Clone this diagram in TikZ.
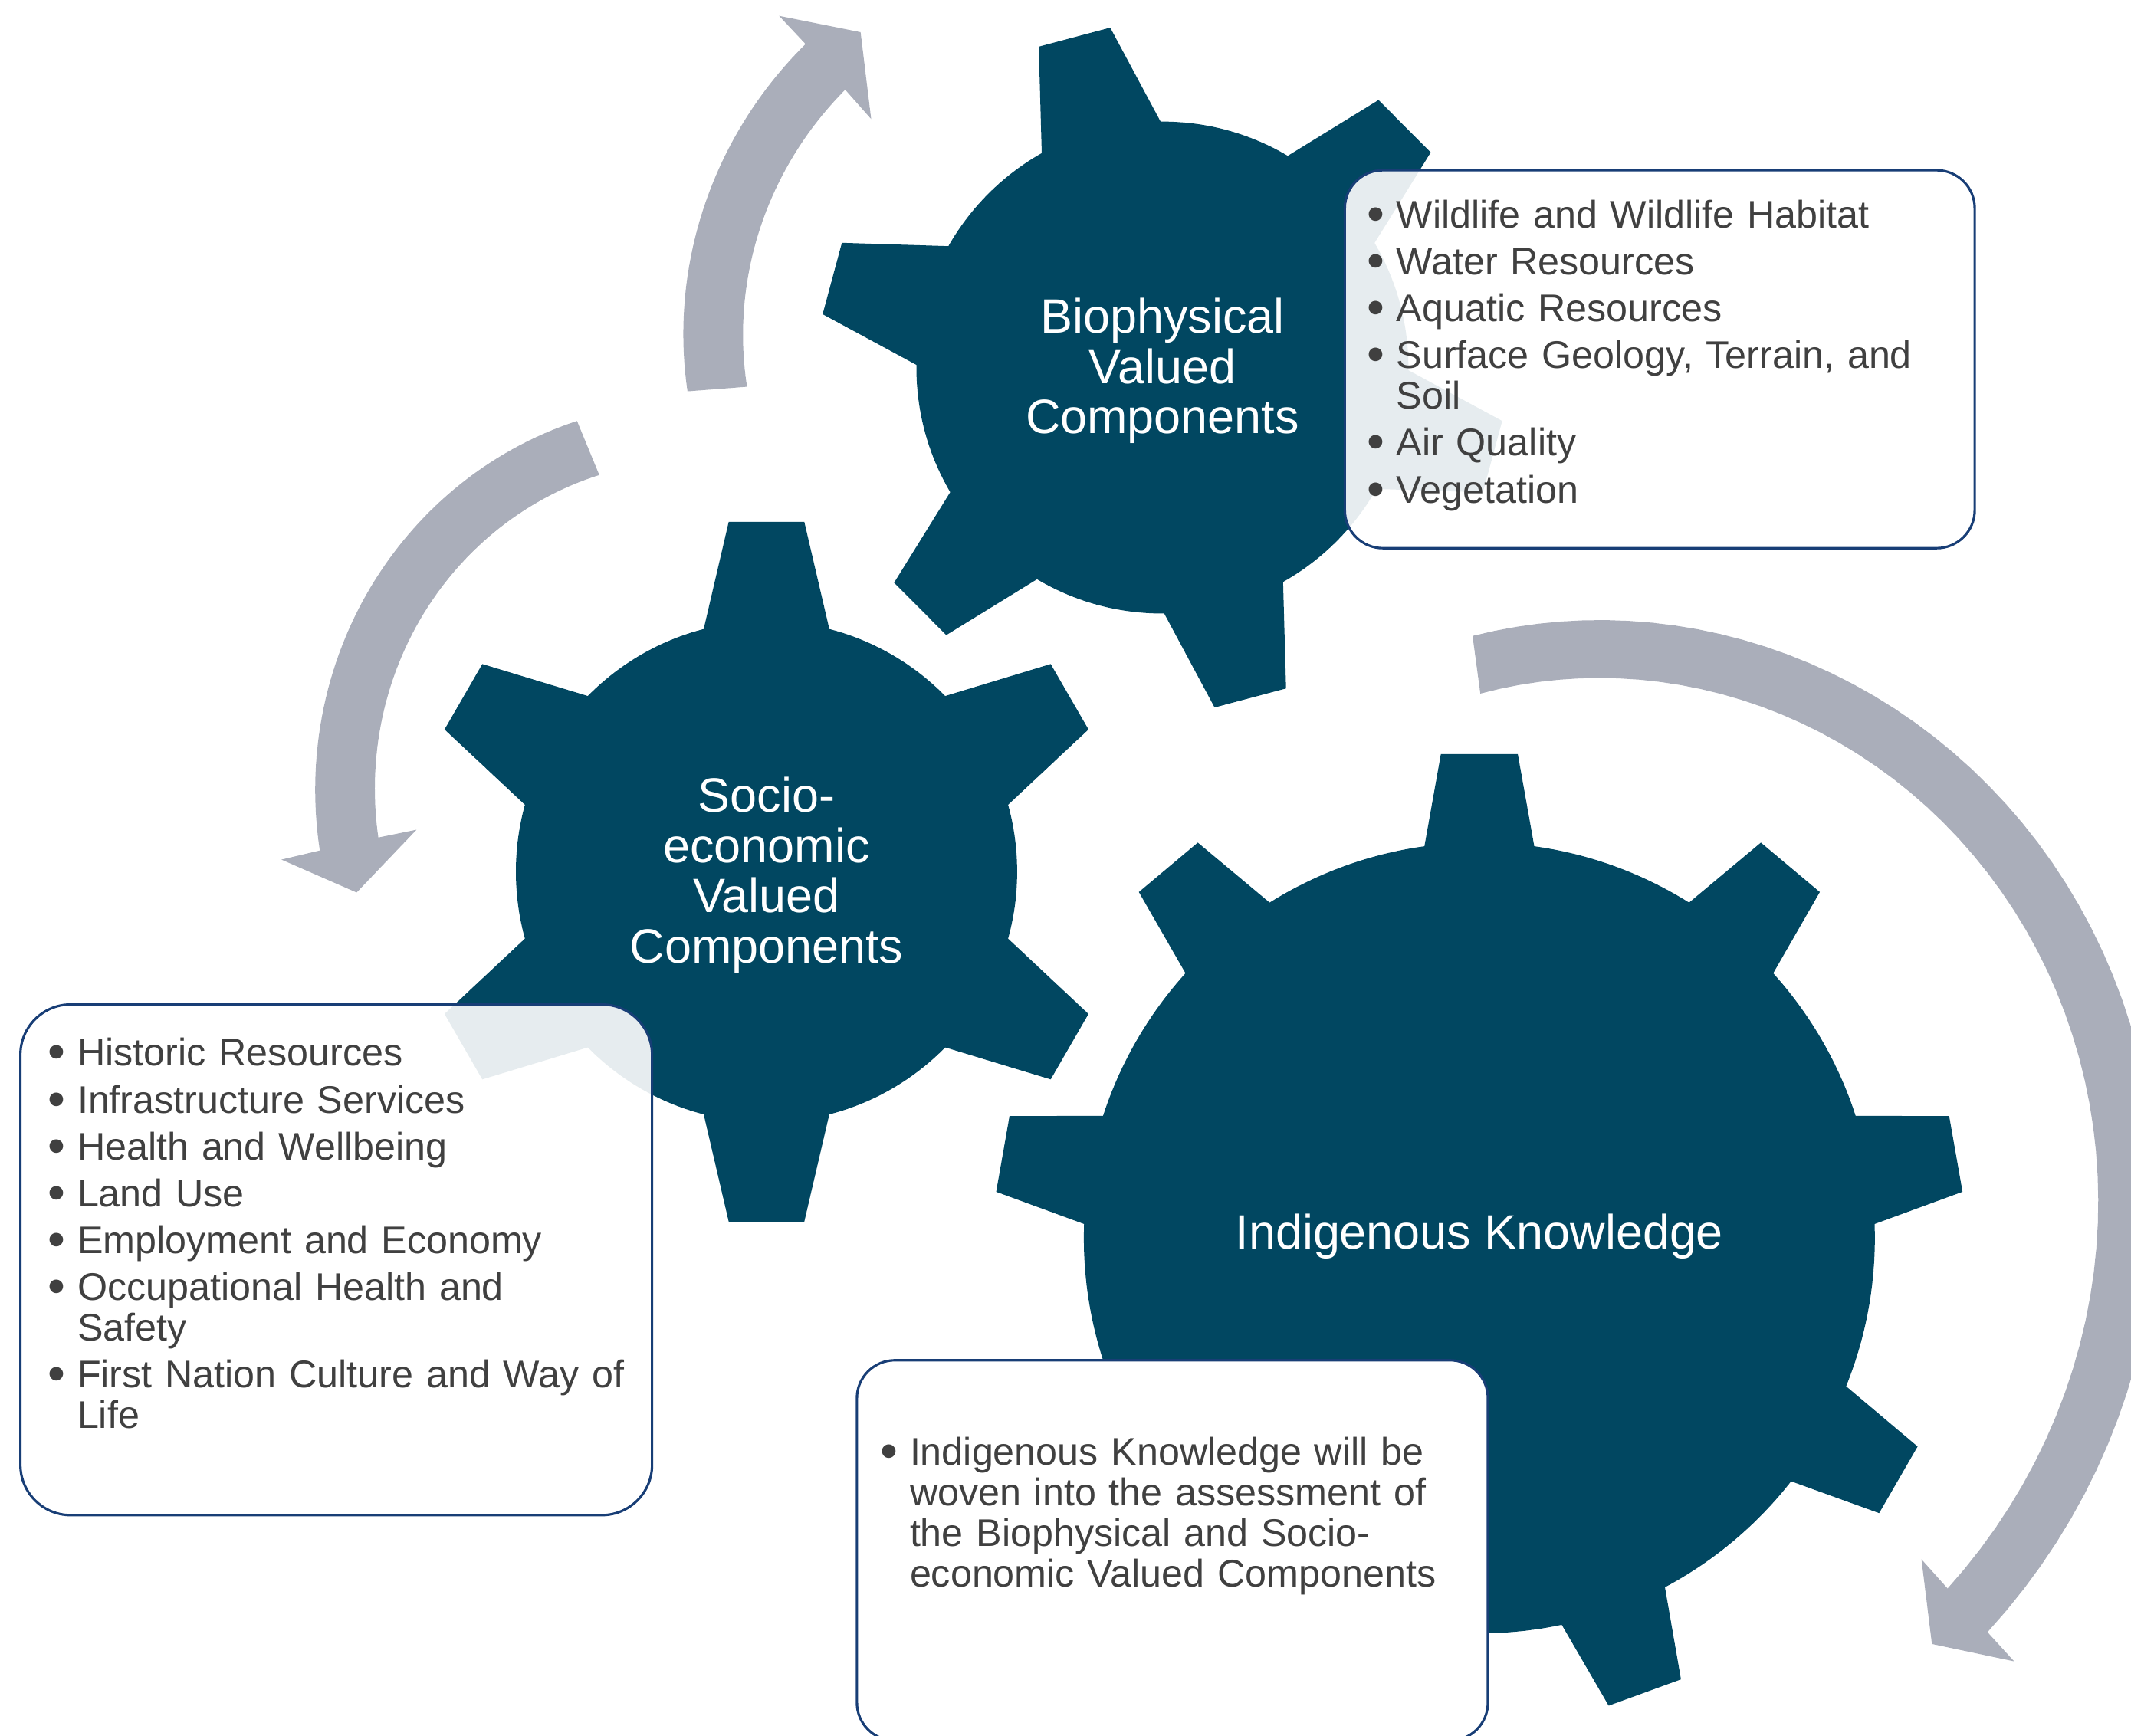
\documentclass[tikz,border=0pt]{standalone}
\usepackage{fontspec}
\setmainfont{Liberation Sans}
\usepackage{tikz}
\usetikzlibrary{positioning,calc}
\definecolor{cogblue}{RGB}{1,71,97}
\definecolor{loopgrey}{RGB}{170,174,186}
\definecolor{boxline}{RGB}{24,62,118}
\definecolor{itemgrey}{RGB}{64,64,64}
\tikzset{%
	cogtext/.style  = {text=white, align=center, inner sep=0pt, font=\fontsize{17.9}{18.6}\selectfont},
	listbox/.style  = {draw=boxline, line width=0.9pt, rectangle, rounded corners=0.5cm},
	listtext/.style = {text=itemgrey, align=left, inner sep=0pt, text width=7.8cm, font=\fontsize{14.3}{15.1}\selectfont, execute at begin node={\setlength{\parskip}{2.3pt}}},
}
\newcommand{\bul}[1]{\hangindent=0.381cm\hangafter=1\noindent\makebox[0.381cm][l]{\raisebox{-0.08em}{\scalebox{1.3}{\textbullet}}}#1\par}
% cog: centre, body radius, tip radius, tip half width, root half width, first tooth, teeth
\newcommand{\cog}[7]{%
	\begin{scope}[shift={#1}]
		\fill[cogblue] (0,0) circle (#2);
		\foreach \k in {1,...,#7}
			\fill[cogblue, rotate={#6+360*(\k-1)/#7}] ({0.85*#2},-#5) -- (#3,-#4) -- (#3,#4) -- ({0.85*#2},#5) -- cycle;
	\end{scope}}
% bent arrow: centre x, centre y, start angle, end angle, outer radius (start, end), inner radius (start, end), head
\newcommand{\cyclearrow}[9]{%
	\fill[loopgrey] plot[domain=#3:#4, samples=60] ({#1+(#5+(#6-#5)*(\x-(#3))/((#4)-(#3)))*cos(\x)}, {#2+(#5+(#6-#5)*(\x-(#3))/((#4)-(#3)))*sin(\x)})
		-- #9
		-- plot[domain=#4:#3, samples=60] ({#1+(#7+(#8-#7)*(\x-(#3))/((#4)-(#3)))*cos(\x)}, {#2+(#7+(#8-#7)*(\x-(#3))/((#4)-(#3)))*sin(\x)})
		-- cycle;}

\begin{document}
\begin{tikzpicture}[x=0.01773cm, y=0.01773cm]
	\useasboundingbox (0,0) rectangle (1568,1277);
	% cogs
	\cog{(855.3,1006.5)}{181}{251.6}{27.2}{50.3}{104.9}{6}
	\cog{(564,635.5)}{184.4}{257.5}{27.8}{51.3}{90}{6}
	\cog{(1088.5,366)}{291}{356}{28.3}{47.7}{90}{9}
	% arrows
	\cyclearrow{795.5}{1011.3}{184.4}{131}{290.5}{309.1}{246.6}{264.6}{(573.3,1265.3) -- (633.2,1253.3) -- (641,1189.4)}
	\cyclearrow{528.1}{716}{112.4}{192.5}{271.7}{299.9}{228.7}{255.8}{(207.1,644.4) -- (262.4,620.2) -- (306.5,666.4)}
	\cyclearrow{1134}{435.5}{97.7}{-47.6}{376.9}{487}{334.1}{443.5}{(1482,54.4) -- (1421.5,67.2) -- (1413.8,129.5)}
	% cog labels
	\node[cogtext] (bio) at (855.3,1004) {Biophysical\\Valued\\Components};
	\node[cogtext] (socio) at (564,633) {Socio-\\economic\\Valued\\Components};
	\node[cogtext] (indig) at (1088.5,367) {Indigenous Knowledge};
	% lists
	\node[listbox, fill=white, fill opacity=0.9, minimum width=8.218cm, minimum height=4.931cm, rounded corners=0.496cm] (bioBox) at (1221.25,1012.65) {};
	\node[listtext, anchor=base west] (bioItems) at ([shift={(17,-43.3)}]bioBox.north west)
		{\bul{Wildlife and Wildlife Habitat}\bul{Water Resources}\bul{Aquatic Resources}\bul{Surface Geology, Terrain, and\newline Soil}\bul{Air Quality}\bul{Vegetation}};
	\node[listbox, fill=white, fill opacity=0.9, minimum width=8.241cm, minimum height=6.663cm, rounded corners=0.656cm] (socioBox) at (247.4,349.9) {};
	\node[listtext, anchor=base west] (socioItems) at ([shift={(21,-46.2)}]socioBox.north west)
		{\bul{Historic Resources}\bul{Infrastructure Services}\bul{Health and Wellbeing}\bul{Land Use}\bul{Employment and Economy}\bul{Occupational Health and\newline Safety}\bul{First Nation Culture and Way of\newline Life}};
	\node[listbox, fill=white, minimum width=8.232cm, minimum height=4.964cm, rounded corners=0.496cm] (indigBox) at (862.65,136) {};
	\node[listtext, anchor=base west] (indigItems) at ([shift={(18,-78)}]indigBox.north west)
		{\bul{Indigenous Knowledge will be\newline woven into the assessment of\newline the Biophysical and Socio-\newline economic Valued Components}};
\end{tikzpicture}
\end{document}
